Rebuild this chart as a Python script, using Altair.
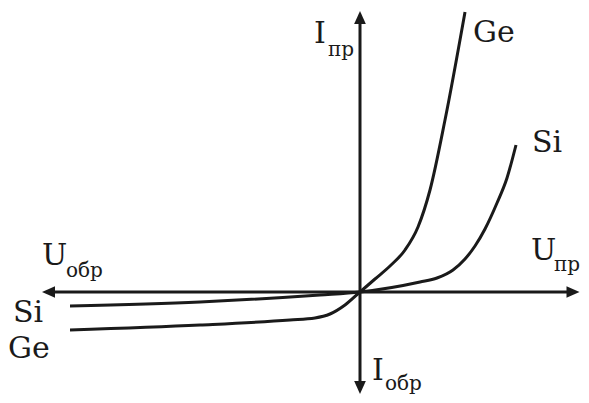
import altair as alt
import pandas as pd

# Ge characteristic (U, I) in arbitrary units
ge_u = [-29, -16, -7, -4.5, -3, -1.5, 0, 1.5, 3, 4.5, 5.8, 7, 8.5, 10.5]
ge_i = [-3.8, -3.3, -2.8, -2.6, -2.2, -1.3, 0, 1.3, 2.6, 4.2, 6.5, 10.2, 17.2, 28.0]

# Si characteristic
si_u = [-29, -16, -4, 0, 6, 7.7, 9.3, 10.5, 11.5, 12.5, 13.7, 14.7, 15.6]
si_i = [-1.4, -1.0, -0.3, 0, 1.0, 1.4, 2.2, 3.3, 4.6, 6.3, 8.9, 11.4, 14.7]

# axis extents (arrow head centres)
u_min, u_max = -31.15, 21.3
i_min, i_max = -9.55, 27.45

# labels
lab_text = ["I", "пр", "U", "пр", "U", "обр", "I", "обр", "Ge", "Si", "Si", "Ge"]
lab_u = [-4.6, -3.2, 17.1, 19.4, -31.8, -29.4, 1.2, 2.5, 11.3, 17.2, -34.7, -35.2]
lab_i = [24.9, 23.6, 3.2, 2.1, 2.7, 1.5, -8.8, -9.8, 25.0, 14.0, -3.0, -6.6]
lab_size = [30, 20, 30, 20, 30, 20, 30, 20, 30, 30, 30, 30]

SERIF = "DejaVu Serif"

xs = alt.Scale(domain=[-35.2, 22.1], nice=False, zero=False)
ys = alt.Scale(domain=[-10.3, 28.4], nice=False, zero=False)

curves = pd.DataFrame(
    {"u": ge_u + si_u, "i": ge_i + si_i,
     "s": ["Ge"] * len(ge_u) + ["Si"] * len(si_u),
     "o": list(range(len(ge_u))) + list(range(len(si_u)))}
)

lines = alt.Chart(curves).mark_line(
    color="#1a1a1a", strokeWidth=3, interpolate="monotone"
).encode(
    x=alt.X("u:Q", scale=xs, axis=None),
    y=alt.Y("i:Q", scale=ys, axis=None),
    detail="s:N",
    order="o:Q",
)

hax = pd.DataFrame({"u": [u_min], "u2": [u_max], "i": [0.0]})
vax = pd.DataFrame({"u": [0.0], "i": [i_min], "i2": [i_max]})

hrule = alt.Chart(hax).mark_rule(color="#1a1a1a", strokeWidth=3).encode(
    x=alt.X("u:Q", scale=xs, axis=None), x2="u2:Q",
    y=alt.Y("i:Q", scale=ys, axis=None),
)
vrule = alt.Chart(vax).mark_rule(color="#1a1a1a", strokeWidth=3).encode(
    x=alt.X("u:Q", scale=xs, axis=None),
    y=alt.Y("i:Q", scale=ys, axis=None), y2="i2:Q",
)

arrows = pd.DataFrame({
    "u": [u_max, u_min, 0.0, 0.0],
    "i": [0.0, 0.0, i_max, i_min],
    "a": [90, 270, 0, 180],
})
heads = alt.Chart(arrows).mark_point(
    shape="M0,-1L0.9,1L-0.9,1Z", size=169, filled=True, color="#1a1a1a", opacity=1
).encode(
    x=alt.X("u:Q", scale=xs, axis=None),
    y=alt.Y("i:Q", scale=ys, axis=None),
    angle=alt.Angle("a:Q", scale=None),
)

labels = pd.DataFrame({"t": lab_text, "u": lab_u, "i": lab_i, "sz": lab_size})
texts = alt.Chart(labels).mark_text(
    align="left", baseline="alphabetic", font=SERIF, fontStyle="normal",
    fontWeight="normal", color="#1a1a1a"
).encode(
    x=alt.X("u:Q", scale=xs, axis=None),
    y=alt.Y("i:Q", scale=ys, axis=None),
    text="t:N",
    size=alt.Size("sz:Q", scale=None),
)

chart = alt.layer(lines, hrule, vrule, heads, texts).properties(
    width=573, height=387, padding=0, autosize=alt.AutoSizeParams(type="none"),
    background="white",
).configure_view(stroke=None)

chart.save("out.html", embed_options={"renderer": "svg", "actions": False})
